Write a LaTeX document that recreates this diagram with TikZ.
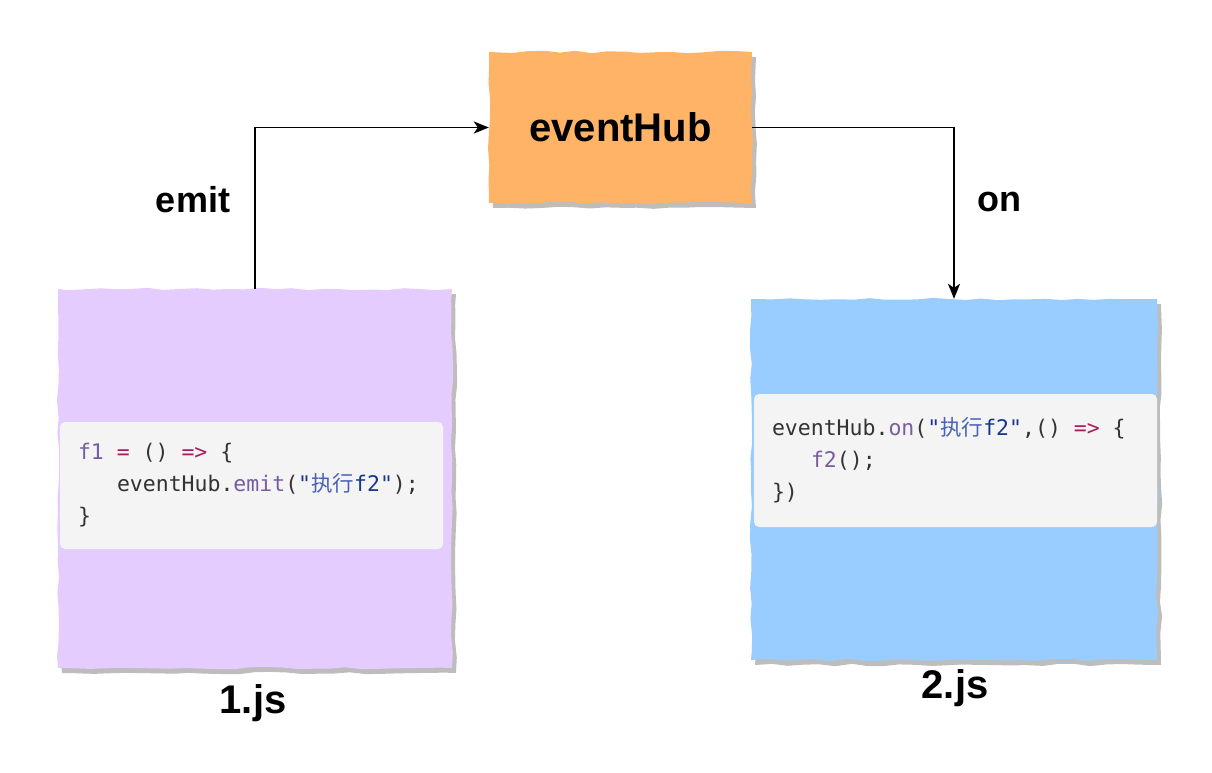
\documentclass[tikz,border=0pt]{standalone}
\usepackage{fontspec}
\setmainfont{Liberation Sans}
\setmonofont{DejaVu Sans Mono}
\newfontfamily\cjk{Noto Sans CJK SC}
\usetikzlibrary{arrows.meta,shadows,decorations.pathmorphing}
\definecolor{hubfill}{HTML}{FFB366}
\definecolor{onefill}{HTML}{E5CCFF}
\definecolor{twofill}{HTML}{99CCFF}
\definecolor{shadowgrey}{HTML}{BDBDBD}
\definecolor{codebg}{HTML}{F4F4F4}
\definecolor{codetext}{HTML}{333333}
\definecolor{kwred}{HTML}{A71D5D}
\definecolor{entpurple}{HTML}{795DA3}
\definecolor{strblue}{HTML}{183691}
\definecolor{cjkblue}{HTML}{4A62B5}
\newcommand{\kw}[1]{\textcolor{kwred}{#1}}
\newcommand{\ent}[1]{\textcolor{entpurple}{#1}}
\newcommand{\str}[1]{\textcolor{strblue}{"{\cjk\color{cjkblue}#1}f2"}}
\newcommand{\gap}{\kern0.602em}
\newcommand{\indentcode}{\leavevmode\kern39pt}
\begin{document}
\begin{tikzpicture}[x=1pt,y=-1pt,
        sketch/.style={decorate,decoration={random steps,segment length=16pt,amplitude=1.2pt}},
        card/.style={sketch,inner sep=0pt,
            drop shadow={shadow xshift=4pt,shadow yshift=-5pt,fill=shadowgrey,opacity=1}},
        code/.style={fill=codebg,rounded corners=5pt,align=left,text=codetext,
            font=\fontsize{21.5}{32}\selectfont\ttfamily,inner xsep=18pt,inner ysep=0pt},
        big/.style={font=\fontsize{40}{48}\selectfont\bfseries},
        lbl/.style={font=\fontsize{36}{43}\selectfont\bfseries},
        arr/.style={-{Stealth[length=15pt,width=12pt,inset=4pt]},line width=1.8pt}]
\pgfmathsetseed{7}
\useasboundingbox (0,0) rectangle (1212,772);

\node[card,fill=hubfill,minimum width=263pt,minimum height=151pt,big] at (620.5,127.5) (hub) {eventHub};
\node[card,fill=onefill,minimum width=394pt,minimum height=379pt] at (255,478.5) (jsone) {};
\node[card,fill=twofill,minimum width=406pt,minimum height=361pt] at (954,479.5) (jstwo) {};

\node[code,minimum width=383pt,minimum height=127pt,text width=347pt] at (251.5,485.5) (codeone)
    {\leavevmode\ent{f1}\gap\kw{=}\gap()\gap\kw{=>}\gap\{\\
     \indentcode eventHub.\ent{emit}(\str{执行});\\
     \}};
\node[code,minimum width=403pt,minimum height=133pt,text width=367pt] at (955.5,460.5) (codetwo)
    {\mbox{eventHub.\ent{on}(\str{执行},()\gap\kw{=>}\gap\{}\\
     \indentcode\ent{f2}();\\
     \})};

\node[lbl] at (193,200) (emitlbl) {emit};
\node[lbl] at (999.5,202) (onlbl) {on};
\node[big] at (253,703) (onename) {1.js};
\node[big] at (955,688) (twoname) {2.js};

\draw[arr] (jsone.north) |- (hub.west);
\draw[arr] (hub.east) -| (jstwo.north);
\end{tikzpicture}
\end{document}
